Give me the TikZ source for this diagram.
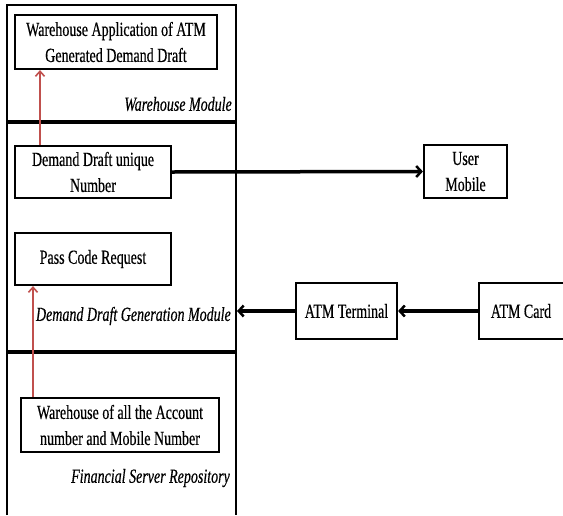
\documentclass[tikz,border=0pt]{standalone}
\usepackage{fontspec}
\setmainfont{Liberation Serif}[FakeStretch=0.70]
\usetikzlibrary{arrows.meta,calc}
\newcommand{\heavier}{\addfontfeature{FakeBold=0.4}}
\begin{document}
\begin{tikzpicture}[x=1pt,y=-1pt,
  box/.style={draw,line width=2.2pt,minimum width=#1,inner sep=0pt,align=center,font=\fontsize{20}{26}\selectfont\heavier},
  lbl/.style={anchor=east,inner sep=0pt,font=\fontsize{20}{22}\selectfont\itshape\heavier},
  blkarrow/.style={line width=3.5pt,-{Straight Barb[length=5pt,width=11pt,line width=2.5pt]}},
  redarrow/.style={line width=1.5pt,draw={rgb,255:red,192;green,80;blue,77},-{Straight Barb[length=5pt,width=9pt,line width=1.6pt]}}]
\useasboundingbox (0,0) rectangle (563,515);
% outer module frame
\draw[line width=1.5pt] (7,515) -- (7,5) -- (236,5) -- (236,515);
\draw[line width=4.5pt] (7,122) -- (236,122);
\draw[line width=4.5pt] (7,352) -- (236,352);
% nodes
\node[box=202pt,minimum height=54pt] (wapp) at (116,42) {Warehouse Application of ATM\\Generated Demand Draft};
\node[lbl] (wmod) at (232,104) {Warehouse Module};
\node[box=156pt,minimum height=52pt] (dd) at (93,172) {Demand Draft unique\\Number};
\node[box=156pt,minimum height=52pt] (pcr) at (93,259) {Pass Code Request};
\node[lbl] (ddgm) at (231,316) {Demand Draft Generation Module};
\node[box=198pt,minimum height=54pt] (wacc) at (120,425) {Warehouse of all the Account\\number and Mobile Number};
\node[lbl] (fsr) at (230,478) {Financial Server Repository};
\node[box=83pt,minimum height=53pt] (um) at (465.5,171.5) {User\\Mobile};
\node[box=101pt,minimum height=56pt] (atmt) at (346.5,311) {ATM Terminal};
\node[inner sep=0pt,font=\fontsize{20}{22}\selectfont\heavier] (atmc) at (521,311) {ATM Card};
\draw[line width=2.2pt] (563,283) -- (479,283) -- (479,339) -- (563,339);
\coordinate (atmcw) at (479,311);
\coordinate (modr) at (237,311);
% red arrows
\coordinate (r1) at (40,0);
\coordinate (r2) at (33,0);
\draw[redarrow] (dd.north -| r1) -- (wapp.south -| r1);
\draw[redarrow] (wacc.north -| r2) -- (pcr.south -| r2);
% black arrows
\draw[blkarrow] (dd.east) -- (um.west);
\draw[blkarrow] (atmcw) -- (atmt.east);
\draw[blkarrow] (atmt.west) -- (modr);
\end{tikzpicture}
\end{document}
